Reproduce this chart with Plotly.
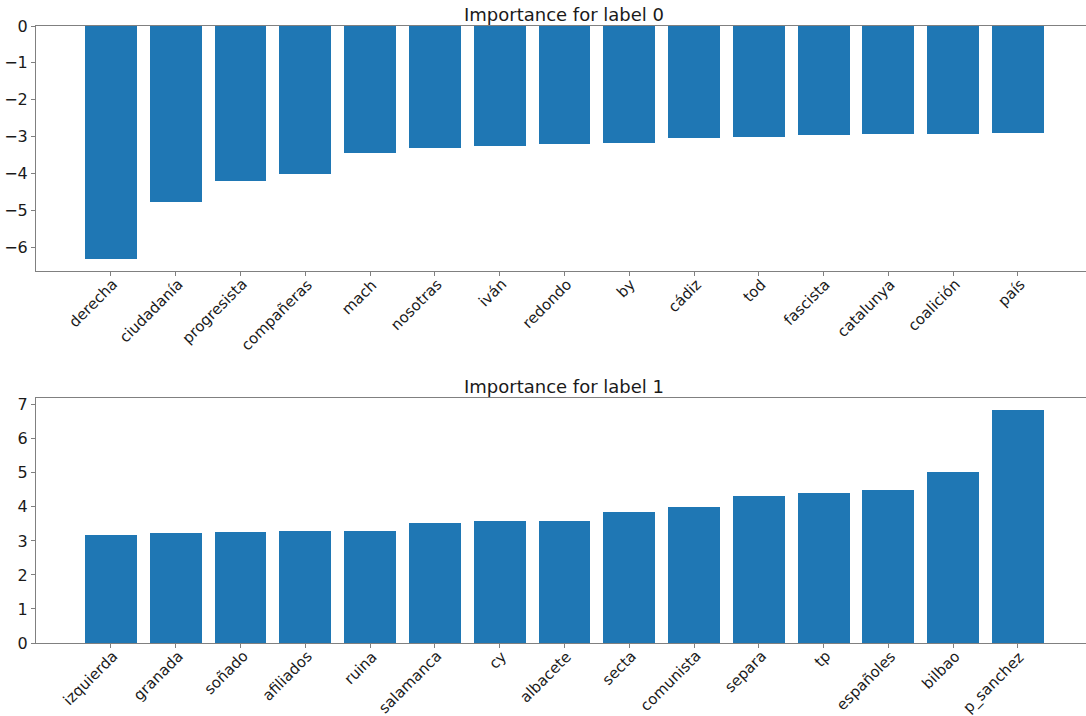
import plotly.graph_objects as go

labels0 = ["derecha", "ciudadanía", "progresista", "compañeras", "mach", "nosotras", "iván",
           "redondo", "by", "cádiz", "tod", "fascista", "catalunya", "coalición", "país"]
values0 = [-6.33, -4.79, -4.20, -4.02, -3.45, -3.32, -3.26, -3.21, -3.17, -3.03, -3.01,
           -2.97, -2.94, -2.93, -2.91]

labels1 = ["izquierda", "granada", "soñado", "afiliados", "ruina", "salamanca", "cy",
           "albacete", "secta", "comunista", "separa", "tp", "españoles", "bilbao", "p_sanchez"]
values1 = [3.18, 3.24, 3.26, 3.30, 3.30, 3.52, 3.58, 3.60, 3.85, 4.01, 4.31, 4.40, 4.50,
           5.04, 6.85]

BLUE = "#1f77b4"
SPINE = "#808080"
TXT = "#1a1a1a"
W, H = 1086, 716
FONT = "DejaVu Sans"

pos0 = list(range(len(labels0)))
pos1 = list(range(len(labels1)))

fig = go.Figure()
fig.add_trace(go.Bar(x=pos0, y=values0, width=0.8, marker=dict(color=BLUE, line=dict(width=0)),
                     xaxis="x", yaxis="y", showlegend=False))
fig.add_trace(go.Bar(x=pos1, y=values1, width=0.8, marker=dict(color=BLUE, line=dict(width=0)),
                     xaxis="x2", yaxis="y2", showlegend=False))

xdom = [36 / W, 1.0]
ydom0 = [1 - 271 / H, 1 - 26 / H]
ydom1 = [1 - 643 / H, 1 - 398 / H]
xr = [-1.157, 15.05]

common_x = dict(range=xr, showline=True, linecolor=SPINE, linewidth=1, ticks="outside",
                ticklen=4, tickcolor=SPINE, showgrid=False, zeroline=False,
                automargin=False, showticklabels=False, mirror=True)
common_y = dict(showline=True, linecolor=SPINE, linewidth=1, ticks="outside", ticklen=4,
                tickcolor=SPINE, showgrid=False, zeroline=False, automargin=False,
                tickfont=dict(size=16, color=TXT, family=FONT))

annotations = [
    dict(text="Importance for label 0", x=564 / W, y=ydom0[1], xref="paper", yref="paper",
         xanchor="center", yanchor="bottom", yshift=-1, showarrow=False,
         font=dict(size=18, color=TXT, family=FONT)),
    dict(text="Importance for label 1", x=564 / W, y=ydom1[1], xref="paper", yref="paper",
         xanchor="center", yanchor="bottom", yshift=-1, showarrow=False,
         font=dict(size=18, color=TXT, family=FONT)),
]
for xa, dom, labs, poss in (("x", ydom0, labels0, pos0), ("x2", ydom1, labels1, pos1)):
    for p, lab in zip(poss, labs):
        annotations.append(dict(
            text=lab, x=p, y=dom[0], xref=xa, yref="paper", xanchor="right", yanchor="top",
            textangle=-45, xshift=12, yshift=-3, showarrow=False, borderpad=0,
            font=dict(size=15, color=TXT, family=FONT)))

fig.update_layout(
    width=W, height=H, margin=dict(l=0, r=0, t=0, b=0, autoexpand=False),
    plot_bgcolor="white", paper_bgcolor="white",
    font=dict(family=FONT, color=TXT),
    bargap=0,
    xaxis=dict(domain=xdom, anchor="y", tickvals=pos0, **common_x),
    yaxis=dict(domain=ydom0, anchor="x", range=[-6.65, 0], tickvals=[-6, -5, -4, -3, -2, -1, 0],
               **common_y),
    xaxis2=dict(domain=xdom, anchor="y2", tickvals=pos1, **common_x),
    yaxis2=dict(domain=ydom1, anchor="x2", range=[0, 7.2], tickvals=[0, 1, 2, 3, 4, 5, 6, 7],
                **common_y),
    annotations=annotations,
)

fig.write_html("out.html")
